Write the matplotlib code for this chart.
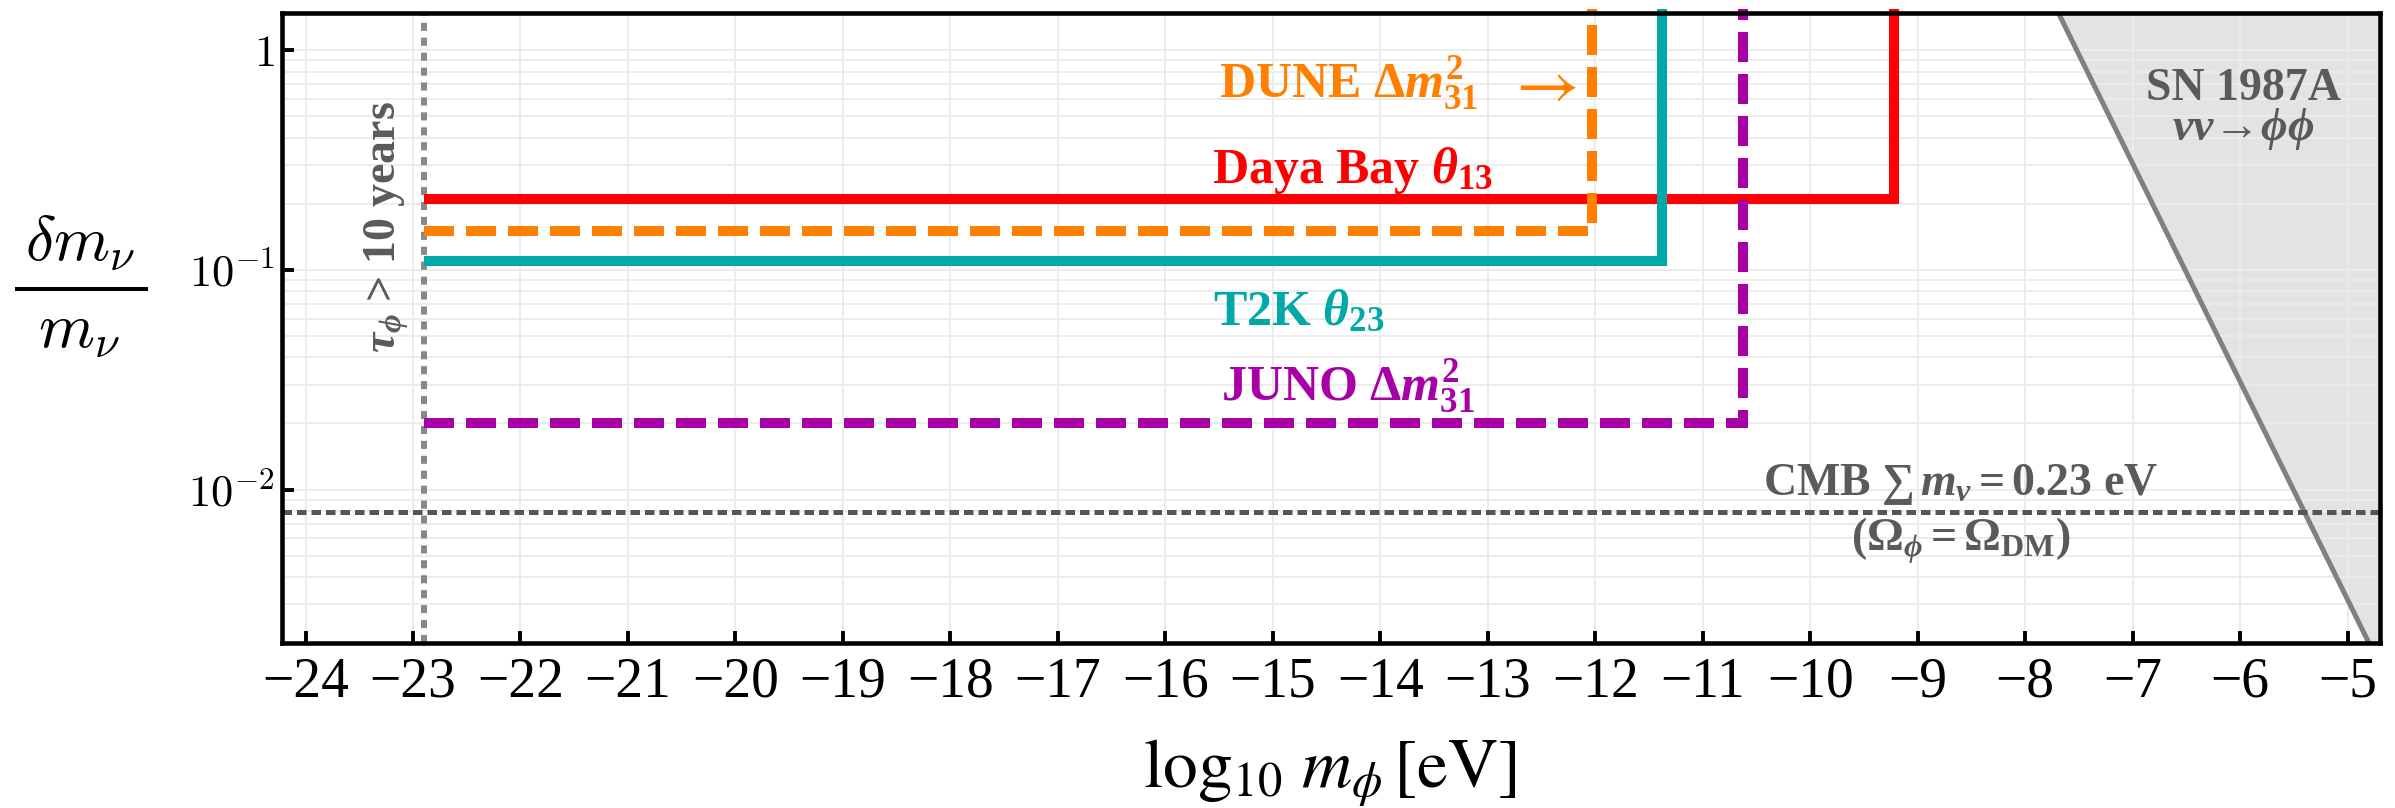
import numpy as np
import matplotlib
matplotlib.use('Agg')
import matplotlib.pyplot as plt
from matplotlib.lines import Line2D
from matplotlib.ticker import LogLocator, NullFormatter, FixedLocator

# data: sensitivity contours (horizontal level, mass edge) per experiment
experiments = ['Daya Bay', 'DUNE', 'T2K', 'JUNO']
levels = [0.21, 0.15, 0.11, 0.02]
mass_edges = [-9.22, -12.03, -11.38, -10.63]
colors = ['#ff0000', '#ff8000', '#00a8a8', '#a600a6']
styles = ['solid', 'dashed', 'solid', 'dashed']
lifetime_edge = -22.9          # tau_phi > 10 years
contour_top = 1.55

cmb_level = 0.0079             # CMB sum m_nu = 0.23 eV
sn_x = [-8.0, -4.6]            # SN 1987A boundary
sn_y = [3.0, 1.26e-3]

xticks = list(range(-24, -4))
yticks = [1e-2, 1e-1, 1]
yticklabels = [r'$10^{-2}$', r'$10^{-1}$', r'$1$']

plt.rcParams['font.family'] = 'Liberation Serif'
plt.rcParams['mathtext.fontset'] = 'custom'
plt.rcParams['mathtext.rm'] = 'Liberation Serif:bold'
plt.rcParams['mathtext.bf'] = 'Liberation Serif:bold'
plt.rcParams['mathtext.it'] = 'Liberation Serif:italic:bold'
plt.rcParams['mathtext.sf'] = 'Liberation Serif:bold'

fig = plt.figure(figsize=(23.95, 8.08), dpi=100)
ax = fig.add_axes([0.1177, 0.2042, 0.8760, 0.7797])
ax.set_yscale('log')
ax.set_xlim(-24.22, -4.70)
ax.set_ylim(2e-3, 1.48)

# SN 1987A excluded region
ax.fill_between(sn_x, sn_y, 100, color='#e3e3e3', lw=0, zorder=0.2)
ax.plot(sn_x, sn_y, color='#808080', lw=3.6, zorder=2)

# grid
ax.set_axisbelow(True)
ax.yaxis.set_minor_locator(LogLocator(base=10, subs=np.arange(1, 10), numticks=20))
ax.yaxis.set_minor_formatter(NullFormatter())
ax.grid(True, which='major', axis='x', color='#ebebeb', lw=1.3)
ax.grid(True, which='both', axis='y', color='#ebebeb', lw=1.3)

# reference lines
ax.axvline(lifetime_edge, color='#888888', lw=4.3, ls=(0, (1.35, 1.15)), zorder=2)
ax.axhline(cmb_level, color='#555555', lw=3.6, ls=(0, (1.9, 1.0)), zorder=2)

# experiment contours
for lev, xe, c, s in zip(levels, mass_edges, colors, styles):
    ls = (0, (3.0, 1.2)) if s == 'dashed' else '-'
    ax.plot([lifetime_edge, xe, xe], [lev, lev, contour_top], color=c, lw=7.2,
            ls=ls, solid_joinstyle='miter', dash_joinstyle='miter',
            solid_capstyle='butt', clip_on=False, zorder=3)

# labels on the plot
lab_kw = dict(fontsize=36, fontweight='bold', ha='left', va='baseline')
ax.text(-15.50, 0.607, r'DUNE $\Delta m^2_{31}$', color=colors[1], **lab_kw)
ax.text(-12.51, 0.68, r'$\rightarrow$', color=colors[1], fontsize=50,
        math_fontfamily='stix', ha='center', va='center')
ax.text(-15.57, 0.249, r'Daya Bay $\theta_{13}$', color=colors[0], **lab_kw)
ax.text(-15.56, 0.0558, r'T2K $\theta_{23}$', color=colors[2], **lab_kw)
ax.text(-15.48, 0.0255, r'JUNO $\Delta m^2_{31}$', color=colors[3], **lab_kw)

gray = '#5a5a5a'
ax.text(-23.24, 0.157, r'$\tau_\phi$ > 10 years', rotation=90, color=gray,
        fontsize=33, fontweight='bold', ha='center', va='center')
ax.text(-5.97, 0.593, 'SN 1987A', color=gray, fontsize=33, fontweight='bold',
        ha='center', va='baseline')
ax.text(-5.97, 0.389, r'$\nu\nu\!\rightarrow\!\phi\phi$', color=gray, fontsize=33,
        ha='center', va='baseline')
ax.text(-8.60, 0.0094, r'CMB $\sum\, m_\nu = 0.23$ eV', color=gray, fontsize=33,
        fontweight='bold', ha='center', va='baseline')
ax.text(-8.60, 0.00527, r'$(\Omega_\phi = \Omega_{\mathrm{DM}})$', color=gray, fontsize=33,
        ha='center', va='baseline')

# axes styling
ax.xaxis.set_major_locator(FixedLocator(xticks))
ax.set_yticks(yticks)
ax.set_yticklabels(yticklabels)
for t in ax.get_yticklabels():
    t.set_math_fontfamily('cm')
ax.tick_params(axis='both', which='major', direction='in', length=8.5, width=2.8,
               top=False, right=False)
ax.tick_params(axis='x', labelsize=40, pad=10)
ax.tick_params(axis='y', labelsize=32, pad=5)
ax.tick_params(which='minor', length=0)
for sp in ax.spines.values():
    sp.set_linewidth(3.3)
    sp.set_zorder(5)

fig.text(0.5553, 0.0248, r'$\log_{10}\, m_\phi\, [\mathrm{eV}]$', fontsize=50,
         math_fontfamily='stix', ha='center', va='baseline')

# y label drawn as a stacked fraction
fig.text(0.0334, 1 - 260 / 808, r'$\delta m_\nu$', fontsize=46,
         math_fontfamily='cm', ha='center', va='baseline')
fig.text(0.0330, 1 - 347 / 808, r'$m_\nu$', fontsize=46,
         math_fontfamily='cm', ha='center', va='baseline')
fig.add_artist(Line2D([17 / 2395, 146 / 2395], [1 - 289 / 808] * 2,
                      color='black', lw=2.9, transform=fig.transFigure))

fig.savefig('out.png', dpi=100)
